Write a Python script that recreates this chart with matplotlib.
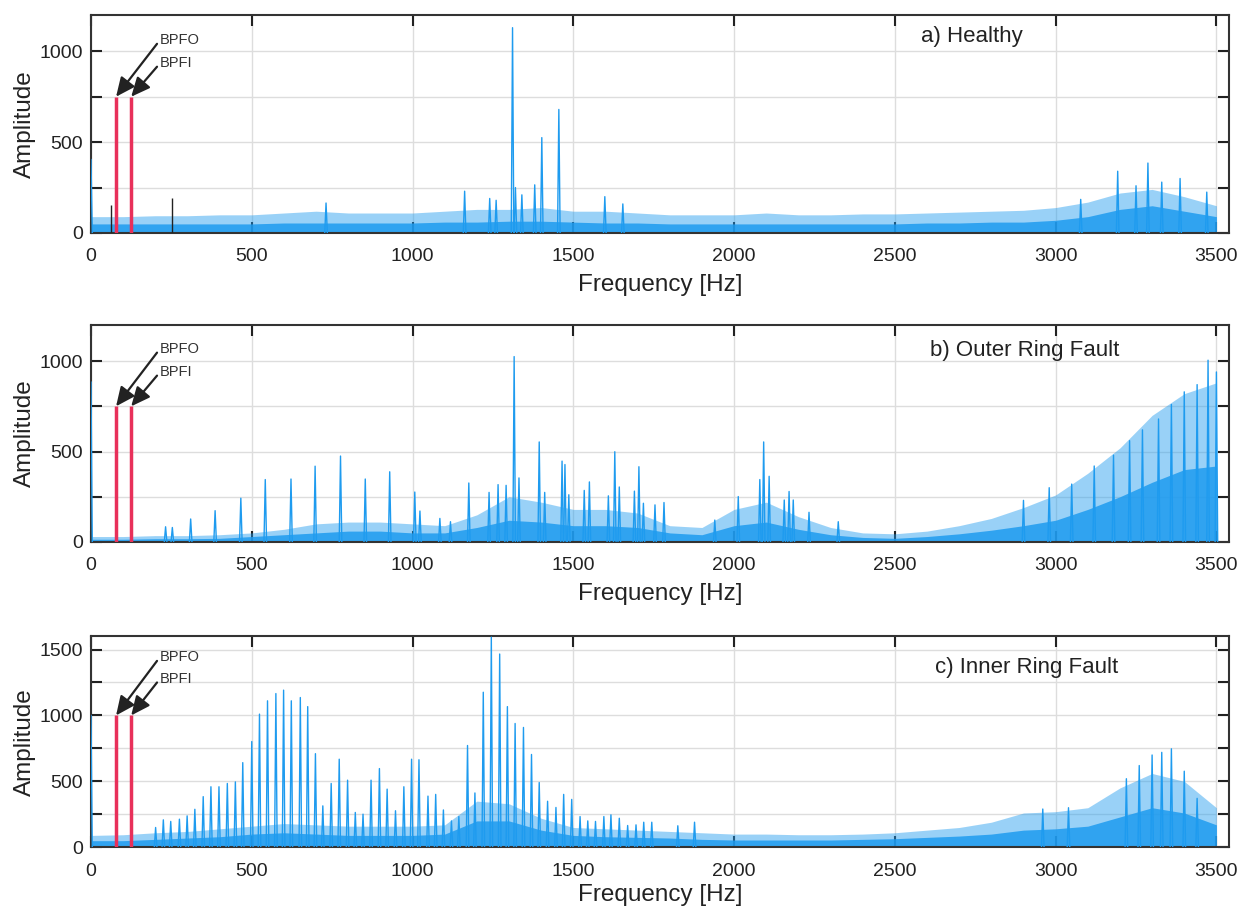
# Envelope spectra of bearing vibration: healthy / outer ring / inner ring fault
import numpy as np
import matplotlib
matplotlib.use("Agg")
import matplotlib.pyplot as plt
from matplotlib.ticker import MultipleLocator, FuncFormatter

plt.rcParams['font.family'] = ['Liberation Sans', 'DejaVu Sans']

# noise band, sampled every 100 Hz (0 .. 3500)
band_freq = list(range(0, 3600, 100))

healthy_top = [90, 90, 95, 95, 100, 100, 110, 120, 110, 110, 110, 120, 130, 130, 140, 120, 120, 110,
               100, 100, 100, 110, 100, 100, 105, 105, 110, 115, 120, 125, 140, 170, 220, 240, 200, 150]
healthy_core = [50, 50, 50, 50, 50, 50, 55, 55, 55, 55, 55, 60, 60, 65, 65, 60, 55, 55,
                50, 50, 50, 50, 50, 50, 50, 50, 55, 55, 60, 60, 70, 90, 130, 150, 120, 90]

outer_top = [30, 30, 35, 35, 40, 50, 70, 100, 110, 110, 100, 90, 150, 250, 220, 180, 180, 160,
             90, 80, 180, 220, 140, 80, 50, 45, 60, 90, 130, 190, 260, 380, 520, 700, 820, 880]
outer_core = [15, 15, 18, 18, 20, 30, 40, 50, 60, 60, 50, 50, 80, 120, 110, 90, 90, 80,
              50, 40, 90, 110, 70, 40, 25, 20, 30, 45, 65, 90, 120, 180, 250, 330, 400, 420]

inner_top = [90, 95, 110, 120, 140, 160, 180, 170, 160, 160, 160, 170, 350, 330, 220, 150, 140, 130,
             120, 110, 100, 100, 95, 95, 100, 110, 130, 150, 190, 260, 270, 300, 450, 560, 500, 300]
inner_core = [50, 50, 60, 70, 80, 100, 110, 100, 90, 90, 90, 100, 200, 200, 130, 90, 80, 75,
              70, 60, 55, 55, 55, 55, 60, 65, 75, 85, 100, 130, 140, 160, 230, 300, 260, 170]

# discrete peaks (Hz, amplitude)
healthy_peak_f = [0, 731, 1162, 1240, 1260, 1311, 1320, 1340, 1380, 1402, 1455, 1598, 1654,
                  3078, 3193, 3250, 3287, 3330, 3387, 3470]
healthy_peak_a = [405, 165, 230, 190, 180, 1130, 250, 210, 265, 525, 680, 200, 160,
                  185, 340, 260, 385, 280, 300, 225]

outer_peak_f = [0, 232, 253, 310, 386, 466, 542, 622, 697, 776, 853, 929, 1007, 1023, 1085, 1118,
                1175, 1238, 1266, 1291, 1316, 1331, 1394, 1411, 1465, 1474, 1486, 1534, 1550,
                1609, 1629, 1643, 1690, 1704, 1718, 1754, 1782, 1940, 2013, 2080, 2092, 2109,
                2156, 2171, 2184, 2233, 2324, 2900, 2980, 3050, 3120, 3180, 3230, 3270, 3320,
                3360, 3400, 3440, 3474, 3500]
outer_peak_a = [885, 84, 80, 127, 173, 242, 345, 348, 419, 475, 348, 388, 276, 171, 130, 112,
                326, 274, 317, 313, 1025, 354, 553, 274, 447, 428, 261, 285, 332,
                255, 499, 304, 281, 416, 214, 205, 218, 121, 251, 345, 553, 363,
                232, 279, 232, 164, 112, 230, 300, 320, 420, 480, 560, 620, 680,
                760, 830, 870, 1005, 940]

inner_peak_f = [0, 201, 225, 248, 275, 299, 323, 349, 373, 398, 424, 449, 472, 500, 524, 549, 575,
                599, 623, 651, 674, 698, 721, 747, 772, 798, 822, 846, 871, 897, 921, 947, 973,
                997, 1020, 1048, 1072, 1096, 1121, 1144, 1171, 1194, 1220, 1245, 1271, 1295,
                1319, 1345, 1370, 1394, 1420, 1446, 1470, 1495, 1521, 1545, 1569, 1595, 1617,
                1643, 1669, 1695, 1719, 1744, 1825, 1877, 2960, 3040, 3220, 3260, 3300, 3330,
                3360, 3400, 3440]
inner_peak_a = [1000, 150, 208, 196, 213, 238, 288, 384, 459, 459, 484, 496, 642, 802, 1010, 1111,
                1166, 1192, 1111, 1136, 1067, 710, 314, 484, 668, 509, 264, 251, 509, 597, 441,
                277, 459, 668, 664, 388, 401, 283, 200, 233, 772, 412, 1176, 1594, 1466, 1067,
                939, 909, 704, 491, 349, 302, 401, 363, 233, 200, 196, 233, 246,
                220, 165, 170, 190, 190, 163, 190, 290, 300, 520, 620, 700, 720,
                747, 577, 371]

# bearing defect frequencies
bpfo, bpfi = 78, 125
marker_height = [750, 750, 1000]

panel_text = ["a) Healthy", "b) Outer Ring Fault", "c) Inner Ring Fault"]
panel_ylim = [1200, 1200, 1600]

blue = '#1e9bef'

fig = plt.figure(figsize=(12.55, 9.13), dpi=100)
boxes = [[0.0725, 0.7448, 0.907, 0.2388],
         [0.0725, 0.4064, 0.907, 0.2377],
         [0.0725, 0.0720, 0.907, 0.2310]]

bands = [(healthy_top, healthy_core), (outer_top, outer_core), (inner_top, inner_core)]
peaks = [(healthy_peak_f, healthy_peak_a), (outer_peak_f, outer_peak_a), (inner_peak_f, inner_peak_a)]
label_pos = [(2740, 1080), (2905, 1060), (2910, 1365)]
bpfo_txt = [(214, 1061), (214, 1067), (214, 1442)]
bpfi_txt = [(214, 933), (214, 938), (214, 1277)]

for i in range(3):
    ax = fig.add_axes(boxes[i])
    top, core = bands[i]
    ax.fill_between(band_freq, 0, top, color=blue, alpha=0.45, lw=0, zorder=2)
    ax.fill_between(band_freq, 0, core, color=blue, alpha=0.85, lw=0, zorder=2)
    for f, a in zip(*peaks[i]):
        ax.plot([f - 4, f, f + 4], [0, a, 0], color=blue, lw=1.0, zorder=3)

    if i == 0:
        ax.vlines([62, 252], 0, [155, 195], color='#222222', lw=1.0, zorder=4)

    h = marker_height[i]
    ax.vlines([bpfo, bpfi], 0, h, color='#e8305a', lw=2.5, zorder=5)
    arrow = dict(arrowstyle='-|>,head_length=1.1,head_width=0.5', color='#222222', lw=1.6,
                 shrinkA=0, shrinkB=0, relpos=(0, 0.5))
    ax.annotate("BPFO", xy=(bpfo, h), xytext=bpfo_txt[i], fontsize=10.5, color='#333333',
                ha='left', va='center', arrowprops=arrow, zorder=6)
    ax.annotate("BPFI", xy=(bpfi, h), xytext=bpfi_txt[i], fontsize=10.5, color='#333333',
                ha='left', va='center', arrowprops=arrow, zorder=6)

    ax.text(*label_pos[i], panel_text[i], fontsize=16, color='#222222', ha='center', va='center')

    ax.set_xlim(0, 3540)
    ax.set_ylim(0, panel_ylim[i])
    ax.xaxis.set_major_locator(MultipleLocator(500))
    ax.yaxis.set_major_locator(MultipleLocator(250))
    ax.yaxis.set_major_formatter(FuncFormatter(lambda v, p: f"{int(v)}" if v % 500 == 0 else ""))
    ax.grid(True, color='#dddddd', lw=1.0, zorder=0)
    ax.set_axisbelow(True)
    ax.tick_params(direction='in', top=True, right=True, length=8, width=1.5,
                   labelsize=14, colors='#222222', pad=6)
    ax.tick_params(axis='x', pad=11)
    for s in ax.spines.values():
        s.set_color('#333333')
        s.set_linewidth(1.5)
    ax.set_xlabel("Frequency [Hz]", fontsize=17.5, color='#222222', labelpad=6 if i < 2 else 3)
    ax.set_ylabel("Amplitude", fontsize=17.5, color='#222222', labelpad=2)

fig.savefig("out.png", dpi=100)
